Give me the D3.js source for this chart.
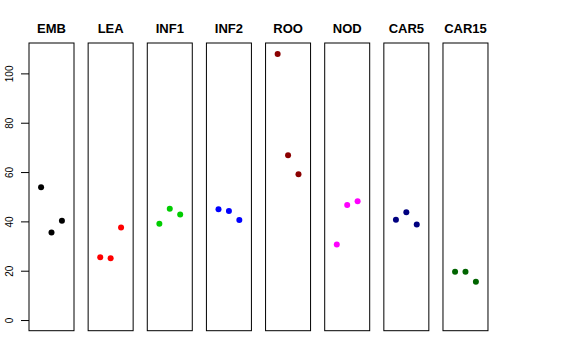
<!DOCTYPE html>
<html>
<head>
<meta charset="utf-8">
<script src="https://cdn.jsdelivr.net/npm/d3@7"></script>
<style>
  body { margin: 0; background: #fff; }
  svg { display: block; font-family: "Liberation Sans", Arial, sans-serif; }
</style>
</head>
<body>
<svg id="chart" width="576" height="360"></svg>
<script>
// panel names, one panel per tissue
const tissues = [ "EMB", "LEA", "INF1", "INF2", "ROO", "NOD", "CAR5", "CAR15" ];
const colors = [ "#000000", "#FF0000", "#00CD00", "#0000FF", "#8B0000", "#FF00FF", "#000080", "#006400" ];

// three replicate values per panel
const repValues = [
    [ 53.8, 35.5, 40.3 ],
    [ 25.5, 25.1, 37.5 ],
    [ 39.0, 45.1, 42.8 ],
    [ 44.9, 44.2, 40.6 ],
    [ 107.9, 66.8, 59.1 ],
    [ 30.6, 46.6, 48.2 ],
    [ 40.7, 43.7, 38.7 ],
    [ 19.6, 19.6, 15.5 ]
];
const reps = [ 1, 2, 3 ];
const yTicks = [ 0, 20, 40, 60, 80, 100 ];

const svg = d3.select( "#chart" );

const plotTop = 43, plotBottom = 330.7;
const firstLeft = 29, panelW = 45, step = 59.14;

const y = d3.scaleLinear()
    .domain( [ -4.32, 112.32 ] )
    .range( [ plotBottom, plotTop ] );

const x = d3.scaleLinear()
    .domain( [ -0.16, 4.16 ] )
    .range( [ 0, panelW ] );

const panel = d3.scaleBand()
    .domain( tissues )
    .range( [ firstLeft, firstLeft + step * ( tissues.length - 1 ) + panelW ] )
    .paddingInner( ( step - panelW ) / step )
    .paddingOuter( 0 );

// y axis on the left of the first panel
const yAxis = d3.axisLeft( y )
    .tickValues( yTicks )
    .tickSize( 8 )
    .tickSizeOuter( 0 );

const gAxis = svg.append( "g" )
    .attr( "transform", `translate(${firstLeft},0)` )
    .call( yAxis );

gAxis.select( ".domain" ).remove();
gAxis.selectAll( ".tick line" ).attr( "stroke", "#000" );
gAxis.selectAll( ".tick text" )
    .attr( "x", null )
    .attr( "dy", null )
    .attr( "transform", "translate(-16.5,0) rotate(-90)" )
    .attr( "text-anchor", "middle" )
    .attr( "fill", "#000" )
    .style( "font-size", "10px" )
    .style( "font-family", "Liberation Sans, Arial, sans-serif" );

tissues.forEach( ( name, i ) => {
    const g = svg.append( "g" )
        .attr( "transform", `translate(${panel( name )},0)` );

    g.append( "rect" )
        .attr( "x", 0 )
        .attr( "y", plotTop )
        .attr( "width", panel.bandwidth() )
        .attr( "height", plotBottom - plotTop )
        .attr( "fill", "none" )
        .attr( "stroke", "#000" )
        .attr( "stroke-width", 1 );

    g.append( "text" )
        .attr( "x", panel.bandwidth() / 2 )
        .attr( "y", 33.3 )
        .attr( "text-anchor", "middle" )
        .style( "font-size", "13px" )
        .style( "font-weight", "bold" )
        .text( name );

    g.selectAll( "circle" )
        .data( repValues[ i ] )
        .enter()
        .append( "circle" )
        .attr( "cx", ( d, j ) => x( reps[ j ] ) )
        .attr( "cy", d => y( d ) )
        .attr( "r", 3 )
        .attr( "fill", colors[ i ] );
} );
</script>
</body>
</html>
